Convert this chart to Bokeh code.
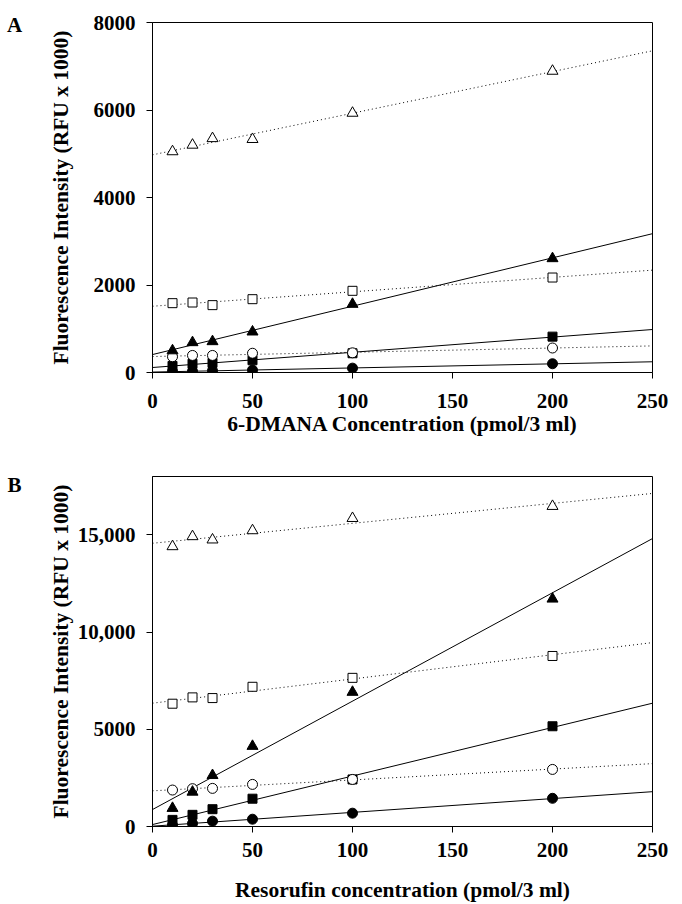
import numpy as np
from bokeh.plotting import figure
from bokeh.layouts import column
from bokeh.models import FixedTicker, Range1d
from bokeh.core.properties import value
from bokeh.embed import file_html
from bokeh.resources import INLINE

# ---------------- data ----------------
conc = [10, 20, 30, 50, 100, 200]

# Panel A: 6-DMANA
a_open_tri = [5050, 5200, 5350, 5330, 5930, 6890]
a_open_sq = [1585, 1600, 1540, 1676, 1867, 2171]
a_fill_tri = [500, 686, 709, 930, 1562, 2606]
a_open_circ = [360, 390, 390, 440, 450, 560]
a_fill_sq = [150, 200, 220, 280, 440, 820]
a_fill_circ = [20, 30, 40, 55, 100, 200]

# Panel B: Resorufin
b_open_tri = [14400, 14915, 14745, 15220, 15850, 16470]
b_open_sq = [6315, 6640, 6605, 7185, 7645, 8770]
b_fill_tri = [940, 1775, 2630, 4130, 6910, 11705]
b_open_circ = [1875, 1945, 1960, 2165, 2420, 2935]
b_fill_sq = [340, 600, 890, 1430, 2420, 5155]
b_fill_circ = [68, 155, 275, 375, 685, 1450]

x_ticks = [0, 50, 100, 150, 200, 250]
a_y_ticks = [0, 2000, 4000, 6000, 8000]
b_y_ticks = [0, 5000, 10000, 15000]
b_y_tick_labels = ["0", "5000", "10,000", "15,000"]

FONT = "Liberation Serif"


def make_panel(height, top, bottom, ymax, yticks, ylabels, xlabel, letter,
               letter_y, series, ylab_standoff, xtick_standoff, xlab_standoff):
    p = figure(width=674, height=height, output_backend="svg",
               toolbar_location=None, x_range=Range1d(0, 250),
               y_range=Range1d(0, ymax),
               min_border_left=152, min_border_right=22,
               min_border_top=top, min_border_bottom=bottom)
    p.grid.visible = False
    p.outline_line_color = "black"
    p.outline_line_width = 1
    p.outline_line_alpha = 1
    p.background_fill_color = "white"
    p.border_fill_color = "white"

    for ax in (p.xaxis[0], p.yaxis[0]):
        ax.axis_line_color = "black"
        ax.major_tick_line_color = "black"
        ax.minor_tick_line_color = None
        ax.major_tick_out = 6
        ax.major_tick_in = 0
        ax.major_label_text_font = FONT
        ax.major_label_text_font_style = "bold"
        ax.major_label_text_font_size = "21px"
        ax.major_label_text_color = "black"
        ax.axis_label_text_font = FONT
        ax.axis_label_text_font_style = "bold"
        ax.axis_label_text_font_size = "21.5px"
        ax.axis_label_text_color = "black"

    p.xaxis.ticker = FixedTicker(ticks=x_ticks)
    p.xaxis.major_label_standoff = xtick_standoff
    p.xaxis.axis_label = xlabel
    p.xaxis.axis_label_standoff = xlab_standoff

    p.yaxis.ticker = FixedTicker(ticks=yticks)
    p.yaxis.major_label_overrides = {t: l for t, l in zip(yticks, ylabels)}
    p.yaxis.major_label_standoff = 11
    p.yaxis.axis_label = "Fluorescence Intensity (RFU x 1000)"
    p.yaxis.axis_label_standoff = ylab_standoff

    xs = np.array(conc, dtype=float)
    xfit = np.array([p.x_range.start, p.x_range.end], dtype=float)
    for ys, marker, fill, dash in series:
        k, b = np.polyfit(xs, np.array(ys, dtype=float), 1)
        p.line(xfit, k * xfit + b, line_color="black", line_width=1,
               line_dash=dash)
    for ys, marker, fill, dash in series:
        size = 11 if marker == "triangle" else 10
        if marker == "square":
            size = 9
        p.scatter(conc, ys, marker=marker, size=size, fill_color=fill,
                  line_color="black", line_width=1)

    # panel letter, placed left of the y axis (outside the frame)
    r = p.text(x=[-69], y=[letter_y], text=[letter],
               text_font=value(FONT), text_font_style="bold",
               text_font_size="21px", text_align="center",
               text_baseline="middle", text_color="black")
    r.level = "overlay"
    return p


series_a = [
    (a_fill_circ, "circle", "black", "solid"),
    (a_fill_sq, "square", "black", "solid"),
    (a_open_circ, "circle", "white", "1 3"),
    (a_fill_tri, "triangle", "black", "solid"),
    (a_open_sq, "square", "white", "1 3"),
    (a_open_tri, "triangle", "white", "1 3"),
]
series_b = [
    (b_fill_circ, "circle", "black", "solid"),
    (b_fill_sq, "square", "black", "solid"),
    (b_open_circ, "circle", "white", "1 3"),
    (b_fill_tri, "triangle", "black", "solid"),
    (b_open_sq, "square", "white", "1 3"),
    (b_open_tri, "triangle", "white", "1 3"),
]

pa = make_panel(446, 22, 74, 8000, a_y_ticks, [str(t) for t in a_y_ticks],
                "6-DMANA Concentration (pmol/3 ml)", "A", 7954, series_a,
                18, 15, 1)
pb = make_panel(458, 30, 77, 18000, b_y_ticks, b_y_tick_labels,
                "Resorufin concentration (pmol/3 ml)", "B", 17540, series_b,
                2, 10, 18)

layout = column(pa, pb, spacing=0)
open("out.html", "w").write(file_html(layout, INLINE))
